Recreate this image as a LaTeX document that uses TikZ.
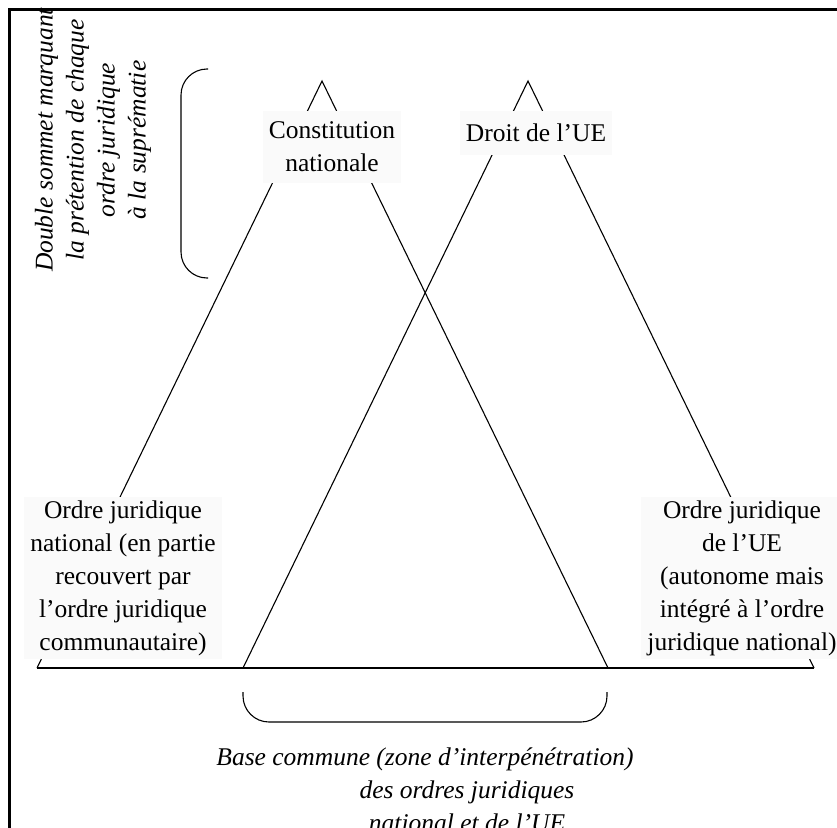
\documentclass[tikz,border=0pt]{standalone}
\usepackage{fontspec}
\setmainfont{Liberation Serif}
\usetikzlibrary{positioning}

\begin{document}
\begin{tikzpicture}[
    x=1pt, y=-1pt,
    leg/.style={line width=1.1pt},
    frame/.style={line width=3pt},
    lbl/.style={fill=black!2, align=center, inner xsep=6pt, inner ysep=3pt, font=\fontsize{25.5}{33}\selectfont},
    peak/.style={lbl, inner ysep=11pt},
    note/.style={align=center, inner sep=0pt, font=\fontsize{25.5}{33}\selectfont\itshape}
]
\useasboundingbox (0,0) rectangle (837,827);

% 1. Frame
\draw[frame] (9,840) -- (9,9) -- (850,9);

% 2. Corners of the two pyramids
\coordinate (natTop) at (322,81);
\coordinate (natL) at (37,668);
\coordinate (natR) at (608,668);
\coordinate (ueTop) at (528,81);
\coordinate (ueL) at (243,668);
\coordinate (ueR) at (814,668);

\draw[leg] (natL) -- (natTop) -- (natR);
\draw[leg] (ueL) -- (ueTop) -- (ueR);
\draw[leg] (natL) -- (ueR);

% 3. Labels (hide the legs behind them)
\node[peak] (constit) at (332,147) {Constitution\\nationale};
\node[peak, inner ysep=13pt] (droitue) at (536,133) {Droit de l'UE};
\node[lbl] (ordnat) at (123,578) {Ordre juridique\\national (en partie\\recouvert par\\l'ordre juridique\\communautaire)};
\node[lbl] (ordue) at (742,578) {Ordre juridique\\de l'UE\\(autonome mais\\intégré à l'ordre\\juridique national)};

% 4. Double summit
\node[note, rotate=90, font=\fontsize{25.5}{31}\selectfont\itshape] (sommet) at (93,140) {Double sommet marquant\\la prétention de chaque\\ordre juridique\\à la suprématie};
\draw[leg, rounded corners=26pt] (208,69) -- (181,69) -- (181,278) -- (208,278);

% 5. Common base
\draw[leg, rounded corners=26pt] (243,692) -- (243,722) -- (607,722) -- (607,692);
\node[note, anchor=north] (base) at (425,748) {Base commune (zone d'interpénétration)\\\hspace*{84pt}des ordres juridiques\\\hspace*{84pt}national et de l'UE};

\end{tikzpicture}
\end{document}
